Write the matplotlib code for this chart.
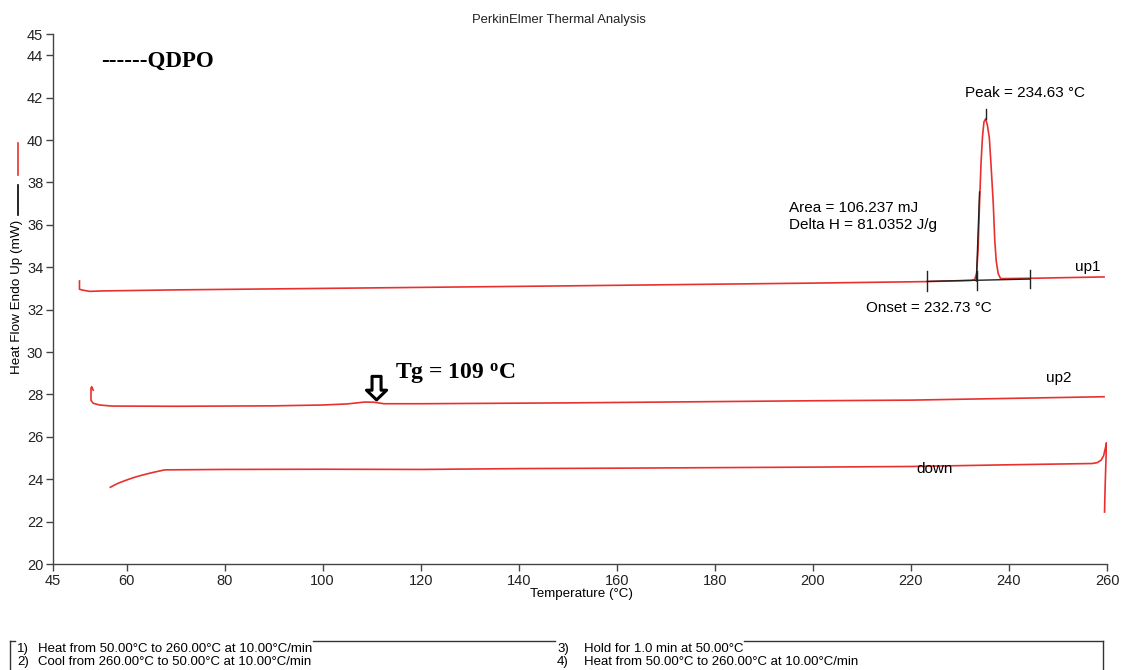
import matplotlib
matplotlib.use("Agg")
import matplotlib.pyplot as plt
from matplotlib.lines import Line2D

plt.rcParams['font.family'] = ['Liberation Sans', 'DejaVu Sans']
plt.rcParams['mathtext.fontset'] = 'custom'
plt.rcParams['mathtext.rm'] = 'Liberation Serif:bold'
plt.rcParams['mathtext.it'] = 'Liberation Serif:bold'
plt.rcParams['mathtext.bf'] = 'Liberation Serif:bold'

# ---------------- data ----------------
up1_T = [50.4, 50.4, 51.0, 52.5, 55.0, 70.0, 100.0, 150.0, 200.0, 223.0,
         232.3, 233.0, 233.4, 233.7, 234.0, 234.3, 234.6, 234.9, 235.25, 235.6,
         236.0, 236.4, 236.8, 237.1, 237.4, 237.8, 238.3, 245.0, 252.0, 259.4]
up1_V = [33.35, 32.96, 32.92, 32.86, 32.88, 32.93, 33.00, 33.12, 33.25, 33.32,
         33.38, 33.42, 33.70, 34.80, 37.00, 38.90, 40.15, 40.85, 41.00, 40.70,
         40.10, 38.60, 37.00, 35.30, 34.30, 33.70, 33.46, 33.48, 33.51, 33.54]

up2_T = [53.2, 52.9, 52.75, 52.75, 53.2, 54.5, 57.0, 70.0, 90.0, 100.0, 105.0,
         108.6, 110.5, 112.5, 120.0, 150.0, 200.0, 220.0, 259.4]
up2_V = [28.20, 28.36, 28.30, 27.72, 27.58, 27.50, 27.45, 27.44, 27.46, 27.50, 27.55,
         27.64, 27.63, 27.56, 27.56, 27.60, 27.70, 27.73, 27.89]

down_T = [259.5, 259.6, 259.8, 259.9, 259.7, 259.3, 258.8, 258.0, 257.0, 240.0, 220.0,
          200.0, 160.0, 140.0, 120.0, 100.0, 80.0, 67.8, 66.0, 64.5, 63.0, 61.5,
          60.0, 58.5, 57.5, 56.7]
down_V = [22.45, 23.50, 25.00, 25.72, 25.50, 25.10, 24.90, 24.78, 24.74, 24.68, 24.60,
          24.57, 24.52, 24.50, 24.46, 24.47, 24.46, 24.44, 24.35, 24.27, 24.18, 24.08,
          23.96, 23.83, 23.72, 23.62]

# peak-analysis construction lines
base_T = [223.3, 244.2]
base_V = [33.33, 33.44]
tick_T = [223.3, 233.4, 244.2]
tick_lo = [32.90, 32.93, 33.00]
tick_hi = [33.80, 33.83, 33.87]
onset_T = [233.35, 234.0]
onset_V = [33.35, 37.55]
peak_T = 235.25
peak_V = [41.0, 41.45]

x_ticks = [45, 60, 80, 100, 120, 140, 160, 180, 200, 220, 240, 260]
y_ticks = [20, 22, 24, 26, 28, 30, 32, 34, 36, 38, 40, 42, 44, 45]

method_lines = [("1)", "Heat from 50.00°C to 260.00°C at 10.00°C/min"),
                ("2)", "Cool from 260.00°C to 50.00°C at 10.00°C/min"),
                ("3)", "Hold for 1.0 min at 50.00°C"),
                ("4)", "Heat from 50.00°C to 260.00°C at 10.00°C/min")]

# ---------------- figure ----------------
W, H = 1121, 670
fig = plt.figure(figsize=(W / 100, H / 100), dpi=100)
L, R, T, B = 53, 1107, 34, 564
ax = fig.add_axes([L / W, 1 - B / H, (R - L) / W, (B - T) / H])

def fx(px):
    return px / W

def fy(py):
    return 1 - py / H

red = '#e8312f'
ax.plot(up1_T, up1_V, color=red, lw=1.2, zorder=3)
ax.plot(up2_T, up2_V, color=red, lw=1.2, zorder=3)
ax.plot(down_T, down_V, color=red, lw=1.2, zorder=3)

k = '#222222'
ax.plot(base_T, base_V, color=k, lw=1.0, zorder=4)
for t, lo, hi in zip(tick_T, tick_lo, tick_hi):
    ax.plot([t, t], [lo, hi], color=k, lw=1.0, zorder=4)
ax.plot(onset_T, onset_V, color=k, lw=1.0, zorder=4)
ax.plot([peak_T, peak_T], peak_V, color=k, lw=1.0, zorder=4)

ax.set_xlim(45, 260)
ax.set_ylim(20, 45)
ax.set_xticks(x_ticks)
ax.set_yticks(y_ticks)
ax.tick_params(direction='out', length=5, width=1, color='#444444',
               labelsize=10.5, labelcolor='#222222', pad=2)
for s in ['top', 'right']:
    ax.spines[s].set_visible(False)
for s in ['left', 'bottom']:
    ax.spines[s].set_color('#444444')
    ax.spines[s].set_linewidth(1.0)

# annotations
fs = 11
ax.text(243.3, 42.2, "Peak = 234.63 °C", ha='center', va='center', fontsize=fs)
ax.text(195.1, 36.79, "Area = 106.237 mJ", ha='left', va='center', fontsize=fs)
ax.text(195.1, 36.01, "Delta H = 81.0352 J/g", ha='left', va='center', fontsize=fs)
ax.text(253.5, 34.0, "up1", ha='left', va='center', fontsize=fs)
ax.text(223.7, 32.08, "Onset = 232.73 °C", ha='center', va='center', fontsize=fs)
ax.text(250.2, 28.77, "up2", ha='center', va='center', fontsize=fs)
ax.text(224.9, 24.48, "down", ha='center', va='center', fontsize=fs)

ax.text(54.9, 43.7, "------QDPO", ha='left', va='center', fontsize=16.5,
        family='Liberation Serif', weight='bold')
ax.text(114.8, 29.0, r"Tg = 109 $^{\mathrm{o}}$C", ha='left', va='center', fontsize=17,
        family='Liberation Serif', weight='bold')
ax.annotate('', xy=(111.0, 27.74), xytext=(111.0, 28.85),
            arrowprops=dict(arrowstyle='simple,head_length=0.7,head_width=1.45,tail_width=0.65',
                            fc='white', ec='black', lw=2.2, shrinkA=0, shrinkB=0))

# titles / labels
fig.text(fx(559), fy(20), "PerkinElmer Thermal Analysis", ha='center', va='center',
         fontsize=9.4, color='#222222')
fig.text(fx(582), fy(594), "Temperature (°C)", ha='center', va='center', fontsize=9.6)
fig.text(fx(17), fy(296.5), "Heat Flow Endo Up (mW)", ha='center', va='center',
         fontsize=9.7, rotation=90)
fig.add_artist(Line2D([fx(18), fx(18)], [fy(185), fy(215)], color='black', lw=1.2))
fig.add_artist(Line2D([fx(18), fx(18)], [fy(143), fy(175)], color=red, lw=1.2))

# method box
bc = '#333333'
segs = [((10, 641), (10, 672)), ((10, 641), (15, 641)), ((313, 641), (555, 641)),
        ((744, 641), (1103, 641)), ((1103, 641), (1103, 672))]
for (x0, y0), (x1, y1) in segs:
    fig.add_artist(Line2D([fx(x0), fx(x1)], [fy(y0), fy(y1)], color=bc, lw=1.0))

rows = [(17, 38, 649), (17, 38, 662), (557, 584, 649), (557, 584, 662)]
for (num, txt), (xn, xt, yy) in zip(method_lines, rows):
    fig.text(fx(xn), fy(yy), num, ha='left', va='center', fontsize=9.5)
    fig.text(fx(xt), fy(yy), txt, ha='left', va='center', fontsize=9.5)

fig.savefig("out.png", dpi=100)
